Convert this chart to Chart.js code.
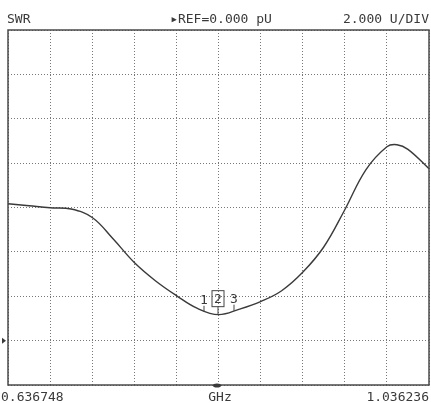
<!DOCTYPE html>
<html>
<head>
<meta charset="utf-8">
<script src="https://cdn.jsdelivr.net/npm/chart.js@4"></script>
<style>
	html, body { margin: 0; padding: 0; background: #fff; }
	#wrap { position: relative; width: 431px; height: 403px; }
</style>
</head>
<body>
<div id="wrap"><canvas id="swr"></canvas></div>
<script>
// sweep data (GHz / SWR units)
const freqs = [0.636748, 0.656722, 0.676697, 0.696671, 0.716646, 0.736620, 0.756594,
	0.776569, 0.796543, 0.816518, 0.836492, 0.856466, 0.876441, 0.896415, 0.916390,
	0.936364, 0.956338, 0.976313, 0.996287, 1.005861, 1.016262, 1.036236];
const swr = [6.17, 6.08, 5.99, 5.93, 5.55, 4.58, 3.52,
	2.70, 2.03, 1.45, 1.17, 1.42, 1.76, 2.25, 3.08,
	4.22, 5.90, 7.70, 8.74, 8.83, 8.62, 7.75];

const markerLabels = ['1', '2', '3'];
const markerFreqs = [0.822733, 0.836019, 0.851202];
const markerSwr = [1.30, 1.17, 1.35];

const gridFreqs = [0.636748, 0.676697, 0.716646, 0.756594, 0.796543, 0.836492,
	0.876441, 0.916390, 0.956338, 0.996287, 1.036236];

const headerLeft = 'SWR',
	headerMid = '\u25B8REF=0.000 pU',
	headerRight = '2.000 U/DIV',
	footerLeft = '0.636748',
	footerMid = 'GHz',
	footerRight = '1.036236';

const refValue = 0;

const textColor = '#3a3a3a';
const monoFont = '13px "DejaVu Sans Mono", "Liberation Mono", monospace';


const screenPlugin = {
	id: 'screen',
	afterDraw(chart) {
		const {ctx, chartArea: a, scales: {x, y}} = chart;
		ctx.save();

		// frame
		ctx.strokeStyle = '#4a4a4a';
		ctx.lineWidth = 1.5;
		ctx.strokeRect(a.left, a.top, a.right - a.left, a.bottom - a.top);

		// header / footer
		ctx.fillStyle = textColor;
		ctx.font = monoFont;
		ctx.textBaseline = 'alphabetic';
		ctx.textAlign = 'left';
		ctx.fillText(headerLeft, 7, 23);
		ctx.fillText(footerLeft, 1, 401);
		ctx.textAlign = 'center';
		ctx.fillText(headerMid, 221, 23);
		ctx.fillText(footerMid, 220, 401);
		ctx.textAlign = 'right';
		ctx.fillText(headerRight, 429, 23);
		ctx.fillText(footerRight, 429, 401);

		// reference arrow
		const ry = y.getPixelForValue(refValue);
		ctx.beginPath();
		ctx.moveTo(2, ry - 3);
		ctx.lineTo(6, ry);
		ctx.lineTo(2, ry + 3);
		ctx.closePath();
		ctx.fill();

		// markers
		ctx.strokeStyle = '#444';
		ctx.lineWidth = 1;
		ctx.font = '13px "DejaVu Sans Mono", monospace';
		ctx.textBaseline = 'middle';
		ctx.textAlign = 'center';
		markerLabels.forEach((lbl, i) => {
			const mx = x.getPixelForValue(markerFreqs[i]),
				my = y.getPixelForValue(markerSwr[i]);
			const active = i === 1;
			const ly = my - (active ? 16 : 12);
			ctx.beginPath();
			ctx.moveTo(mx, my);
			ctx.lineTo(mx, active ? ly + 8 : ly + 6);
			ctx.stroke();
			ctx.fillText(lbl, mx, ly + 0.5);
			if (active) {
				ctx.strokeRect(mx - 6, ly - 8, 12, 16);
				// active marker flag under the frame
				ctx.beginPath();
				ctx.ellipse(mx - 1, a.bottom + 0.5, 4, 2, 0, 0, Math.PI * 2);
				ctx.fill();
			}
		});

		ctx.restore();
	}
};


document.addEventListener('DOMContentLoaded', () => {
	const canvas = document.getElementById('swr');

	new Chart(canvas, {
		type: 'line',
		data: {
			datasets: [{
				label: 'SWR',
				data: freqs.map((f, i) => ({x: f, y: swr[i]})),
				borderColor: '#3a3a3a',
				borderWidth: 1.4,
				pointRadius: 0,
				tension: 0.4,
				fill: false
			}]
		},
		options: {
			responsive: true,
			maintainAspectRatio: false,
			animation: false,
			layout: {
				padding: {left: 8, right: 2, top: 30, bottom: 18}
			},
			scales: {
				x: {
					type: 'linear',
					min: freqs[0],
					max: freqs[freqs.length - 1],
					afterBuildTicks: axis => {
						axis.ticks = gridFreqs.map(v => ({value: v}));
					},
					ticks: {display: false},
					grid: {color: '#777', lineWidth: 1, drawTicks: false, borderDash: [1, 2]},
					border: {display: false, dash: [1, 2]}
				},
				y: {
					min: -2,
					max: 14,
					ticks: {display: false, stepSize: 2},
					grid: {color: '#777', lineWidth: 1, drawTicks: false, borderDash: [1, 2]},
					border: {display: false, dash: [1, 2]}
				}
			},
			plugins: {
				legend: false,
				tooltip: {enabled: false}
			}
		},
		plugins: [screenPlugin]
	});
});
</script>
</body>
</html>
